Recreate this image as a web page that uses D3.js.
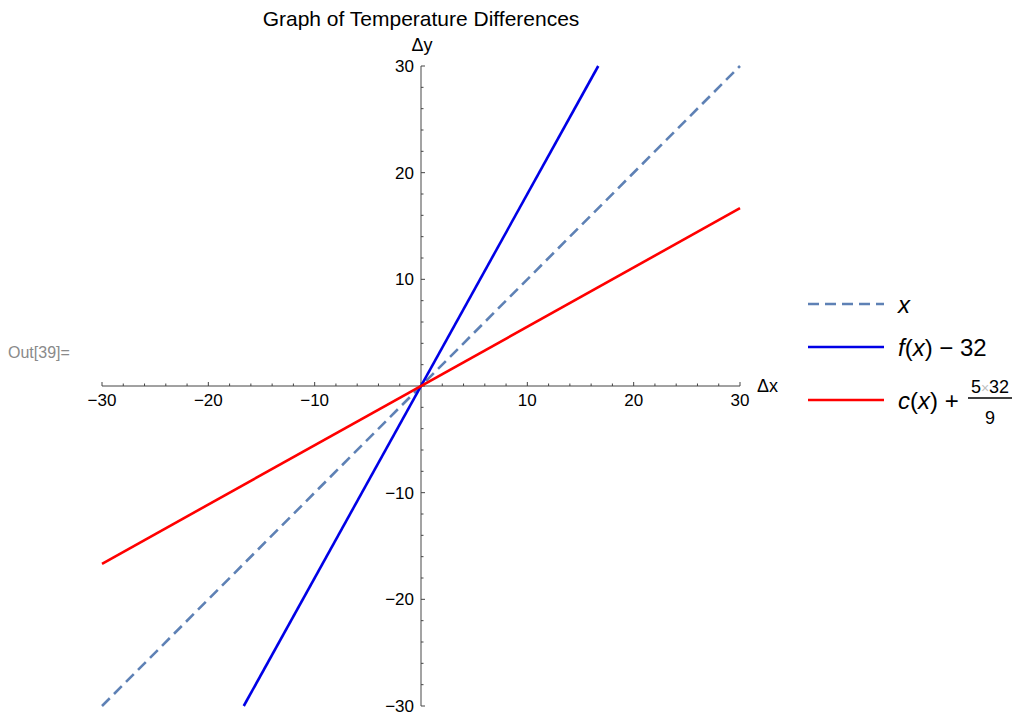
<!DOCTYPE html>
<html lang="en">
<head>
<meta charset="utf-8">
<title>Graph of Temperature Differences</title>
<script src="https://d3js.org/d3.v7.min.js"></script>
<style>
  body { margin: 0; background: #fff; }
  svg text { font-family: "Liberation Sans", Arial, sans-serif; }
</style>
</head>
<body>
<div id="chart"></div>
<script>
// data
var xDomain = [-30, 30]
var yDomain = [-30, 30]
var majorTicks = [-30, -20, -10, 10, 20, 30]
var minorTicks = d3.range(-30, 31, 2)

var seriesNames = ["x", "f(x) \u2212 32", "c(x) + 5\u00d732/9"]
var seriesColors = ["#5e81b5", "#0000e6", "#ff0000"]
var seriesDash = ["11,6", null, null]
var lineX = [[-30, -30], [30, 30]]
var lineF = [[-16.67, -30], [16.67, 30]]
var lineC = [[-30, -16.67], [30, 16.67]]
var seriesData = [lineX, lineF, lineC]

var width = 1012, height = 713

var svg = d3.select("#chart").append("svg")
  .attr("width", width)
  .attr("height", height)

var x = d3.scaleLinear().domain(xDomain).range([102, 740])
var y = d3.scaleLinear().domain(yDomain).range([706, 66])

// "Out" label
svg.append("text")
  .attr("x", 8).attr("y", 358)
  .style("font-size", "16px").style("fill", "#8a8a8a")
  .text("Out[39]=")

// title
svg.append("text")
  .attr("x", 421).attr("y", 26)
  .attr("text-anchor", "middle")
  .style("font-size", "21px")
  .text("Graph of Temperature Differences")

// x axis
var xAxis = svg.append("g").attr("transform", "translate(0," + y(0) + ")")
xAxis.append("line").attr("x1", x(-30)).attr("x2", x(30)).attr("stroke", "#444")
xAxis.selectAll(".minor").data(minorTicks).enter().append("line")
  .attr("x1", d => x(d)).attr("x2", d => x(d))
  .attr("y1", 0).attr("y2", d => d % 10 == 0 ? -4 : -2.5)
  .attr("stroke", "#444")
xAxis.selectAll(".lbl").data(majorTicks).enter().append("text")
  .attr("x", d => x(d)).attr("y", 20)
  .attr("text-anchor", "middle")
  .style("font-size", "17px")
  .text(d => d3.format("d")(d).replace("-", "\u2212"))
xAxis.append("text").attr("x", 757).attr("y", 6)
  .style("font-size", "18px").text("\u0394x")

// y axis
var yAxis = svg.append("g").attr("transform", "translate(" + x(0) + ",0)")
yAxis.append("line").attr("y1", y(-30)).attr("y2", y(30)).attr("stroke", "#666").attr("stroke-width", 1.2)
yAxis.selectAll(".minor").data(minorTicks).enter().append("line")
  .attr("y1", d => y(d)).attr("y2", d => y(d))
  .attr("x1", 0).attr("x2", d => d % 10 == 0 ? 4 : 2.5)
  .attr("stroke", "#444")
yAxis.selectAll(".lbl").data(majorTicks).enter().append("text")
  .attr("x", -7).attr("y", d => y(d) + 6)
  .attr("text-anchor", "end")
  .style("font-size", "17px")
  .text(d => d3.format("d")(d).replace("-", "\u2212"))
yAxis.append("text").attr("x", 1).attr("y", 51)
  .attr("text-anchor", "middle")
  .style("font-size", "18px").text("\u0394y")

// lines
var line = d3.line().x(d => x(d[0])).y(d => y(d[1]))
svg.append("g").selectAll("path").data(seriesData).enter().append("path")
  .attr("d", line)
  .attr("fill", "none")
  .attr("stroke", (d, i) => seriesColors[i])
  .attr("stroke-width", 2.6)
  .attr("stroke-dasharray", (d, i) => seriesDash[i])

// legend
var legY = [304, 347, 400]
var leg = svg.append("g")
seriesNames.forEach(function(name, i) {
  leg.append("line")
    .attr("x1", 808).attr("x2", 884)
    .attr("y1", legY[i]).attr("y2", legY[i])
    .attr("stroke", seriesColors[i]).attr("stroke-width", 2.6)
    .attr("stroke-dasharray", seriesDash[i])
})
var it = "font-style:italic"
leg.append("text").attr("x", 898).attr("y", legY[0] + 9).style("font-size", "24px")
  .append("tspan").attr("style", it).text("x")
var t1 = leg.append("text").attr("x", 898).attr("y", legY[1] + 9).style("font-size", "24px")
t1.append("tspan").attr("style", it).text("f")
t1.append("tspan").text("(")
t1.append("tspan").attr("style", it).text("x")
t1.append("tspan").text(") \u2212 32")
var t2 = leg.append("text").attr("x", 898).attr("y", legY[2] + 9).style("font-size", "24px")
t2.append("tspan").attr("style", it).text("c")
t2.append("tspan").text("(")
t2.append("tspan").attr("style", it).text("x")
t2.append("tspan").text(") +")
var num = leg.append("text").attr("x", 990).attr("y", legY[2] - 7)
  .attr("text-anchor", "middle").style("font-size", "18px")
num.append("tspan").text("5")
num.append("tspan").style("fill", "#c0c0c0").style("font-size", "14px").text("\u00d7")
num.append("tspan").text("32")
leg.append("line").attr("x1", 968).attr("x2", 1012)
  .attr("y1", legY[2] - 2).attr("y2", legY[2] - 2)
  .attr("stroke", "#000").attr("stroke-width", 1.3)
leg.append("text").attr("x", 990).attr("y", legY[2] + 24)
  .attr("text-anchor", "middle").style("font-size", "18px").text("9")
</script>
</body>
</html>
